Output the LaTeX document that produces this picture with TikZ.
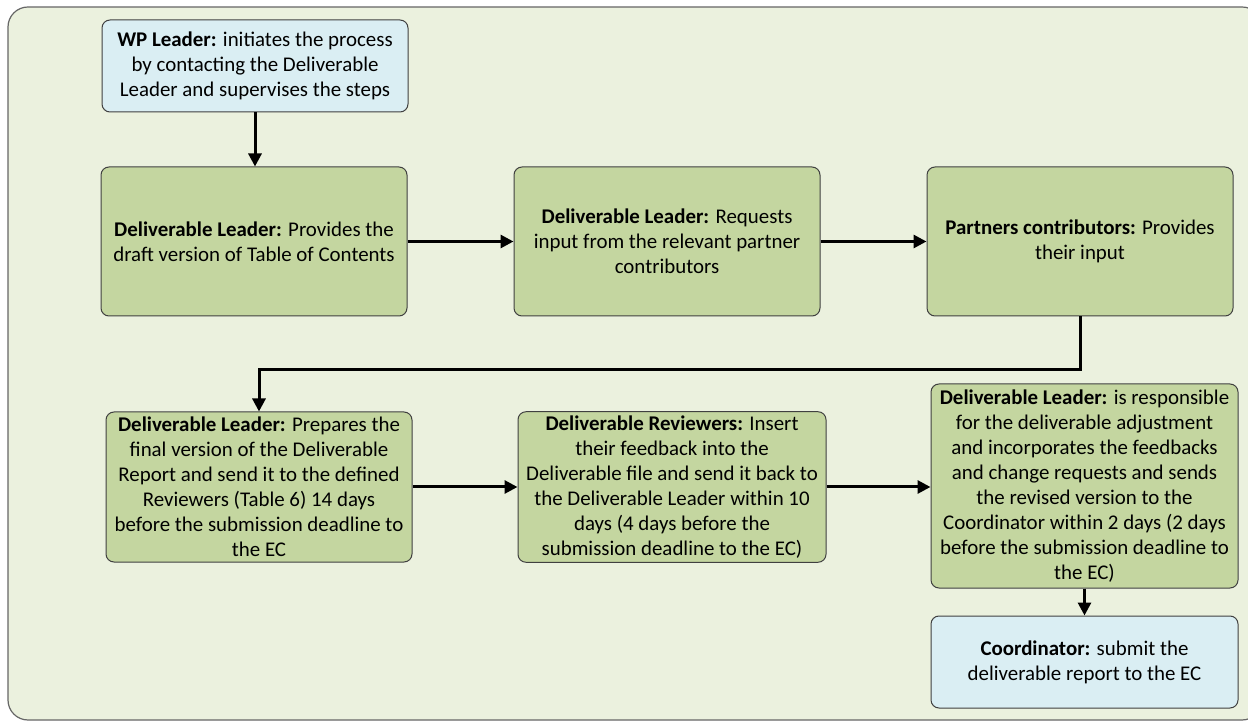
\documentclass[tikz,border=0pt]{standalone}
\usepackage{fontspec}
\setmainfont{Carlito}
\usepackage{tikz}
\usetikzlibrary{arrows.meta, positioning}

\definecolor{bgGreen}{HTML}{EBF1DE}
\definecolor{boxGreen}{HTML}{C4D6A0}
\definecolor{boxBlue}{HTML}{DAEEF3}
\definecolor{edgeGray}{HTML}{404040}

\begin{document}
\begin{tikzpicture}[x=0.5pt, y=-0.5pt]
            \pgfmathsetmacro{\w}{153}
            \pgfmathsetmacro{\h}{74.5}
            \tikzstyle{stepGreen}=[draw=edgeGray, line width=0.5pt, fill=boxGreen, rounded corners=4pt, align=center, font=\fontsize{10.45}{12.5}\selectfont, inner sep=2pt, minimum width=\w pt, minimum height=\h pt]
            \tikzstyle{stepBlue}=[stepGreen, fill=boxBlue, minimum height=46pt]
            \tikzstyle{flow}=[line width=1.5pt, -{Triangle[length=6.5pt, width=6.5pt]}]

            \useasboundingbox (0,0) rectangle (1248,721);
            %%%%%%%%%%%%%%%%%%%%%%%%%%%%%%%%%%%%%%%%
            \draw[fill=bgGreen, draw=gray!80!black, line width=0.6pt, rounded corners=10pt] (8,7) rectangle (1262,720);

            \node at (255, 66) (wp) [stepBlue] {\textbf{WP Leader:} initiates the process\\by contacting the Deliverable\\Leader and supervises the steps};

            \node at (254, 241.5) (dlA) [stepGreen] {\textbf{Deliverable Leader:} Provides the\\draft version of Table of Contents};
            \node at (667, 241.5) (dlB) [stepGreen] {\textbf{Deliverable Leader:} Requests\\input from the relevant partner\\contributors};
            \node at (1080, 241.5) (pc) [stepGreen] {\textbf{Partners contributors:} Provides\\their input};

            \node at (259, 487) (dlC) [stepGreen, minimum height=75pt] {\textbf{Deliverable Leader:} Prepares the\\final version of the Deliverable\\Report and send it to the defined\\Reviewers (Table 6) 14 days\\before the submission deadline to\\the EC};
            \node at (672, 487) (rev) [stepGreen, minimum width=154pt, minimum height=75pt] {\textbf{Deliverable Reviewers:} Insert\\their feedback into the\\Deliverable file and send it back to\\the Deliverable Leader within 10\\days (4 days before the\\submission deadline to the EC)};
            \node at (1084.5, 486) (dlD) [stepGreen, minimum width=153.5pt, minimum height=102pt] {\textbf{Deliverable Leader:} is responsible\\for the deliverable adjustment\\and incorporates the feedbacks\\and change requests and sends\\the revised version to the\\Coordinator within 2 days (2 days\\before the submission deadline to\\the EC)};
            \node at (1084.5, 662) (coord) [stepBlue, minimum width=153.5pt] {\textbf{Coordinator:} submit the\\deliverable report to the EC};

            %%%%%%%%%%%%%%%%%%%%%%%%%%%%%%%%%%%%%%%%
            \draw[flow] (wp.south) -- (wp.south |- dlA.north);
            \draw[flow] (dlA.east) -- (dlB.west);
            \draw[flow] (dlB.east) -- (pc.west);
            \draw[flow] (pc.south) -- ++(0,53) -| (dlC.north);
            \draw[flow] (dlC.east) -- (rev.west);
            \draw[flow] (rev.east) -- (rev.east -| dlD.west);
            \draw[flow] (dlD.south) -- (coord.north);
        \end{tikzpicture}
\end{document}
